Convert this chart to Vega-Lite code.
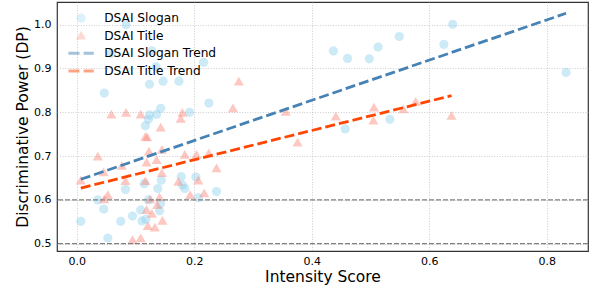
{
  "$schema": "https://vega.github.io/schema/vega-lite/v6.json",
  "width": 531,
  "height": 249,
  "autosize": {"type": "none"},
  "padding": {"left": 57, "top": 2, "right": 3, "bottom": 37},
  "datasets": {
    "points": [
      {"series": "DSAI Slogan", "x": 0.084, "y": 1.0},
      {"series": "DSAI Slogan", "x": 0.059, "y": 0.935},
      {"series": "DSAI Slogan", "x": 0.128, "y": 0.94},
      {"series": "DSAI Slogan", "x": 0.135, "y": 0.904},
      {"series": "DSAI Slogan", "x": 0.216, "y": 0.914},
      {"series": "DSAI Slogan", "x": 0.047, "y": 0.844},
      {"series": "DSAI Slogan", "x": 0.124, "y": 0.864},
      {"series": "DSAI Slogan", "x": 0.147, "y": 0.871},
      {"series": "DSAI Slogan", "x": 0.174, "y": 0.871},
      {"series": "DSAI Slogan", "x": 0.225, "y": 0.821},
      {"series": "DSAI Slogan", "x": 0.192, "y": 0.8},
      {"series": "DSAI Slogan", "x": 0.143, "y": 0.809},
      {"series": "DSAI Slogan", "x": 0.136, "y": 0.795},
      {"series": "DSAI Slogan", "x": 0.124, "y": 0.794},
      {"series": "DSAI Slogan", "x": 0.122, "y": 0.784},
      {"series": "DSAI Slogan", "x": 0.117, "y": 0.769},
      {"series": "DSAI Slogan", "x": 0.007, "y": 0.551},
      {"series": "DSAI Slogan", "x": 0.036, "y": 0.6},
      {"series": "DSAI Slogan", "x": 0.046, "y": 0.579},
      {"series": "DSAI Slogan", "x": 0.053, "y": 0.513},
      {"series": "DSAI Slogan", "x": 0.083, "y": 0.624},
      {"series": "DSAI Slogan", "x": 0.075, "y": 0.551},
      {"series": "DSAI Slogan", "x": 0.095, "y": 0.563},
      {"series": "DSAI Slogan", "x": 0.109, "y": 0.577},
      {"series": "DSAI Slogan", "x": 0.111, "y": 0.552},
      {"series": "DSAI Slogan", "x": 0.118, "y": 0.556},
      {"series": "DSAI Slogan", "x": 0.115, "y": 0.637},
      {"series": "DSAI Slogan", "x": 0.122, "y": 0.6},
      {"series": "DSAI Slogan", "x": 0.138, "y": 0.626},
      {"series": "DSAI Slogan", "x": 0.144, "y": 0.645},
      {"series": "DSAI Slogan", "x": 0.143, "y": 0.592},
      {"series": "DSAI Slogan", "x": 0.141, "y": 0.575},
      {"series": "DSAI Slogan", "x": 0.178, "y": 0.653},
      {"series": "DSAI Slogan", "x": 0.18, "y": 0.634},
      {"series": "DSAI Slogan", "x": 0.184, "y": 0.626},
      {"series": "DSAI Slogan", "x": 0.203, "y": 0.652},
      {"series": "DSAI Slogan", "x": 0.207, "y": 0.605},
      {"series": "DSAI Slogan", "x": 0.238, "y": 0.619},
      {"series": "DSAI Slogan", "x": 0.437, "y": 0.94},
      {"series": "DSAI Slogan", "x": 0.461, "y": 0.923},
      {"series": "DSAI Slogan", "x": 0.498, "y": 0.922},
      {"series": "DSAI Slogan", "x": 0.513, "y": 0.949},
      {"series": "DSAI Slogan", "x": 0.549, "y": 0.973},
      {"series": "DSAI Slogan", "x": 0.625, "y": 0.955},
      {"series": "DSAI Slogan", "x": 0.64, "y": 1.001},
      {"series": "DSAI Slogan", "x": 0.833, "y": 0.891},
      {"series": "DSAI Slogan", "x": 0.457, "y": 0.762},
      {"series": "DSAI Slogan", "x": 0.533, "y": 0.784},
      {"series": "DSAI Title", "x": 0.059, "y": 0.795},
      {"series": "DSAI Title", "x": 0.084, "y": 0.799},
      {"series": "DSAI Title", "x": 0.109, "y": 0.795},
      {"series": "DSAI Title", "x": 0.117, "y": 0.744},
      {"series": "DSAI Title", "x": 0.12, "y": 0.743},
      {"series": "DSAI Title", "x": 0.143, "y": 0.765},
      {"series": "DSAI Title", "x": 0.177, "y": 0.785},
      {"series": "DSAI Title", "x": 0.18, "y": 0.799},
      {"series": "DSAI Title", "x": 0.266, "y": 0.809},
      {"series": "DSAI Title", "x": 0.276, "y": 0.87},
      {"series": "DSAI Title", "x": 0.356, "y": 0.801},
      {"series": "DSAI Title", "x": 0.376, "y": 0.731},
      {"series": "DSAI Title", "x": 0.007, "y": 0.644},
      {"series": "DSAI Title", "x": 0.036, "y": 0.699},
      {"series": "DSAI Title", "x": 0.046, "y": 0.663},
      {"series": "DSAI Title", "x": 0.053, "y": 0.611},
      {"series": "DSAI Title", "x": 0.047, "y": 0.601},
      {"series": "DSAI Title", "x": 0.077, "y": 0.678},
      {"series": "DSAI Title", "x": 0.083, "y": 0.643},
      {"series": "DSAI Title", "x": 0.117, "y": 0.643},
      {"series": "DSAI Title", "x": 0.123, "y": 0.71},
      {"series": "DSAI Title", "x": 0.119, "y": 0.685},
      {"series": "DSAI Title", "x": 0.145, "y": 0.714},
      {"series": "DSAI Title", "x": 0.136, "y": 0.691},
      {"series": "DSAI Title", "x": 0.145, "y": 0.661},
      {"series": "DSAI Title", "x": 0.173, "y": 0.641},
      {"series": "DSAI Title", "x": 0.184, "y": 0.703},
      {"series": "DSAI Title", "x": 0.204, "y": 0.703},
      {"series": "DSAI Title", "x": 0.225, "y": 0.706},
      {"series": "DSAI Title", "x": 0.238, "y": 0.672},
      {"series": "DSAI Title", "x": 0.207, "y": 0.644},
      {"series": "DSAI Title", "x": 0.193, "y": 0.611},
      {"series": "DSAI Title", "x": 0.217, "y": 0.615},
      {"series": "DSAI Title", "x": 0.125, "y": 0.601},
      {"series": "DSAI Title", "x": 0.119, "y": 0.577},
      {"series": "DSAI Title", "x": 0.128, "y": 0.568},
      {"series": "DSAI Title", "x": 0.121, "y": 0.54},
      {"series": "DSAI Title", "x": 0.133, "y": 0.537},
      {"series": "DSAI Title", "x": 0.146, "y": 0.552},
      {"series": "DSAI Title", "x": 0.141, "y": 0.606},
      {"series": "DSAI Title", "x": 0.137, "y": 0.588},
      {"series": "DSAI Title", "x": 0.095, "y": 0.508},
      {"series": "DSAI Title", "x": 0.109, "y": 0.512},
      {"series": "DSAI Title", "x": 0.441, "y": 0.79},
      {"series": "DSAI Title", "x": 0.505, "y": 0.781},
      {"series": "DSAI Title", "x": 0.506, "y": 0.811},
      {"series": "DSAI Title", "x": 0.556, "y": 0.807},
      {"series": "DSAI Title", "x": 0.577, "y": 0.824},
      {"series": "DSAI Title", "x": 0.638, "y": 0.792}
    ],
    "trends": [
      {"series": "DSAI Slogan Trend", "x": 0.007, "y": 0.647},
      {"series": "DSAI Slogan Trend", "x": 0.833, "y": 1.026},
      {"series": "DSAI Title Trend", "x": 0.007, "y": 0.627},
      {"series": "DSAI Title Trend", "x": 0.638, "y": 0.838}
    ],
    "refs": [{"ref": 0.5}, {"ref": 0.6}]
  },
  "layer": [
    {
      "data": {"name": "points"},
      "mark": {"type": "point", "filled": true, "size": 85, "strokeWidth": 0},
      "encoding": {
        "x": {
          "field": "x", "type": "quantitative",
          "scale": {"domain": [-0.0335, 0.8703], "nice": false, "zero": false},
          "axis": {"title": "Intensity Score", "values": [0, 0.2, 0.4, 0.6, 0.8], "format": ".1f"}
        },
        "y": {
          "field": "y", "type": "quantitative",
          "scale": {"domain": [0.4833, 1.0518], "nice": false, "zero": false},
          "axis": {"title": "Discriminative Power (DP)", "values": [0.5, 0.6, 0.7, 0.8, 0.9, 1.0], "format": ".1f"}
        },
        "color": {
          "field": "series", "type": "nominal", "title": null,
          "scale": {
            "domain": ["DSAI Slogan", "DSAI Title", "DSAI Slogan Trend", "DSAI Title Trend"],
            "range": ["rgba(135,206,235,0.6)", "rgba(250,128,114,0.62)", "#4682B4", "#FF4500"]
          },
          "legend": {
            "orient": "none", "legendX": 18, "legendY": 10,
            "symbolSize": 85, "labelOffset": 17, "rowPadding": 4.6, "padding": 0,
            "labelFontSize": 12.2, "labelColor": "#000", "symbolStrokeWidth": 0, "symbolOpacity": 1
          }
        },
        "shape": {
          "field": "series", "type": "nominal", "title": null,
          "scale": {
            "domain": ["DSAI Slogan", "DSAI Title", "DSAI Slogan Trend", "DSAI Title Trend"],
            "range": ["circle", "M0,-1.05L1.1,0.85L-1.1,0.85Z", "M-2.75,-0.33H-0.35V0.33H-2.75Z M0.55,-0.33H2.75V0.33H0.55Z", "M-2.75,-0.33H-0.35V0.33H-2.75Z M0.55,-0.33H2.75V0.33H0.55Z"]
          }
        }
      }
    },
    {
      "data": {"name": "refs"},
      "mark": {"type": "rule", "color": "#808080", "strokeWidth": 1.2, "strokeDash": [5, 2]},
      "encoding": {"y": {"field": "ref", "type": "quantitative"}}
    },
    {
      "data": {"name": "trends"},
      "mark": {"type": "line", "strokeWidth": 2.8, "strokeDash": [10, 4]},
      "encoding": {
        "x": {"field": "x", "type": "quantitative"},
        "y": {"field": "y", "type": "quantitative"},
        "color": {"field": "series", "type": "nominal", "title": null}
      }
    }
  ],
  "config": {
    "font": "DejaVu Sans",
    "view": {"stroke": "#333333", "strokeWidth": 1.2},
    "axis": {
      "domain": false,
      "ticks": false,
      "grid": true,
      "gridColor": "#b0b0b0",
      "gridDash": [1, 1.6],
      "gridWidth": 0.8,
      "gridOpacity": 0.8,
      "labelFontSize": 11,
      "labelColor": "#000",
      "titleFontSize": 15.5,
      "titleFontWeight": "normal",
      "titleColor": "#000"
    },
    "axisX": {"labelPadding": 4, "titlePadding": 3},
    "axisY": {"labelPadding": 6, "titlePadding": 3}
  }
}
